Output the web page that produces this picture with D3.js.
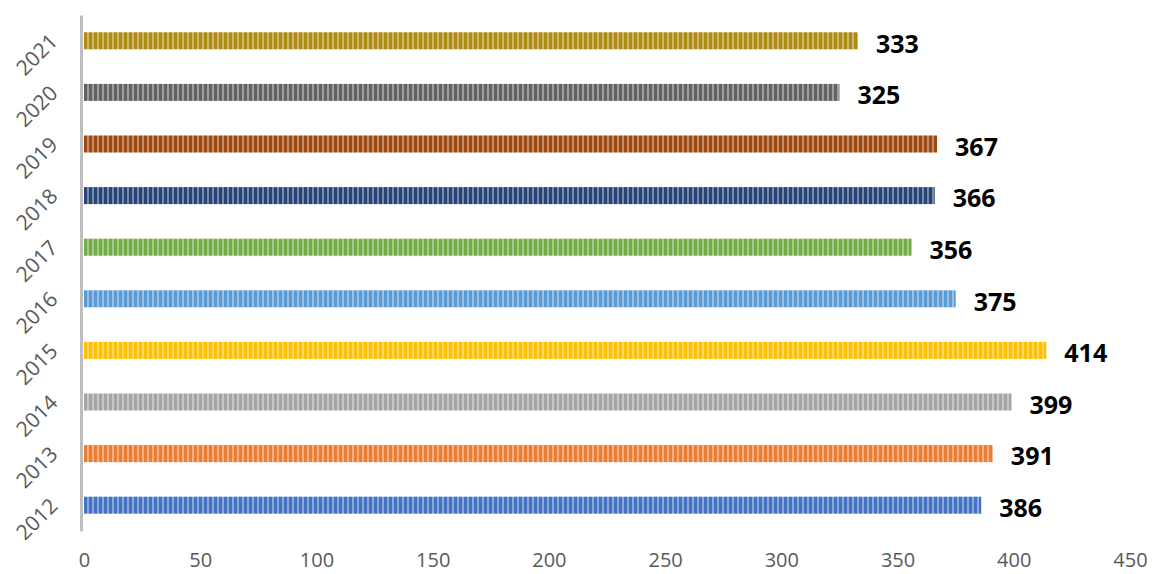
<!DOCTYPE html>
<html>
<head>
<meta charset="utf-8">
<script src="https://cdn.jsdelivr.net/npm/d3@7"></script>
<style>
    body { margin: 0; background: #fff; }
    svg { display: block; }
</style>
</head>
<body>
<svg id="chart"></svg>
<script>
// data
const years = ['2012', '2013', '2014', '2015', '2016', '2017', '2018', '2019', '2020', '2021'];
const values = [386, 391, 399, 414, 375, 356, 366, 367, 325, 333];
const colors = ['#4472C4', '#ED7D31', '#A5A5A5', '#FFC000', '#5B9BD5', '#70AD47', '#264478', '#9E480E', '#636363', '#B08B12'];
const xTicks = [0, 50, 100, 150, 200, 250, 300, 350, 400, 450];

const W = 1152, H = 574;
const margin = { top: 15, right: 22, bottom: 43, left: 84 };

const svg = d3.select('#chart').attr('width', W).attr('height', H);

// striped fills
const defs = svg.append('defs');
colors.forEach((c, i) => {
    const p = defs.append('pattern')
        .attr('id', 'stripe' + i)
        .attr('patternUnits', 'userSpaceOnUse')
        .attr('width', 5)
        .attr('height', 10);
    p.append('rect').attr('width', 5).attr('height', 10).attr('fill', c);
    p.append('rect').attr('x', 2).attr('width', 2).attr('height', 10)
        .attr('fill', '#fff').attr('opacity', 0.38);
});

const x = d3.scaleLinear()
    .domain([0, 450])
    .range([margin.left, W - margin.right]);

const y = d3.scaleBand()
    .domain(years.slice().reverse())
    .range([margin.top, H - margin.bottom])
    .paddingInner(0.67)
    .paddingOuter(0.335);

const g = svg.append('g');

// bars
g.selectAll('rect.bar')
    .data(years)
    .enter()
    .append('rect')
    .attr('class', 'bar')
    .attr('x', x(0))
    .attr('y', d => y(d))
    .attr('width', (d, i) => x(values[i]) - x(0))
    .attr('height', y.bandwidth())
    .attr('fill', (d, i) => `url(#stripe${i})`);

// value labels
g.selectAll('text.val')
    .data(years)
    .enter()
    .append('text')
    .attr('class', 'val')
    .attr('x', (d, i) => x(values[i]) + 18)
    .attr('y', d => y(d) + y.bandwidth() / 2 + 3)
    .attr('dy', '0.35em')
    .attr('font-family', 'Open Sans, sans-serif')
    .attr('font-weight', 700)
    .attr('font-size', 25)
    .attr('fill', '#000')
    .text((d, i) => values[i]);

// x axis labels
const xAxis = svg.append('g')
    .attr('transform', `translate(0,${H - margin.bottom})`)
    .call(d3.axisBottom(x).tickValues(xTicks).tickSize(0).tickPadding(22));
xAxis.select('.domain').remove();
xAxis.selectAll('text')
    .attr('font-family', 'Open Sans, sans-serif')
    .attr('font-size', 20)
    .attr('fill', '#595959');

// y axis
const yAxis = svg.append('g')
    .attr('transform', `translate(${margin.left - 3},0)`)
    .call(d3.axisLeft(y).tickSize(0).tickPadding(0));
yAxis.select('.domain')
    .attr('stroke', '#BFBFBF')
    .attr('stroke-width', 3);
yAxis.selectAll('text')
    .attr('font-family', 'Open Sans, sans-serif')
    .attr('font-size', 21)
    .attr('fill', '#595959')
    .attr('text-anchor', 'end')
    .attr('x', 0)
    .attr('dy', 0)
    .attr('transform', 'translate(-22,2) rotate(-45)');
</script>
</body>
</html>
